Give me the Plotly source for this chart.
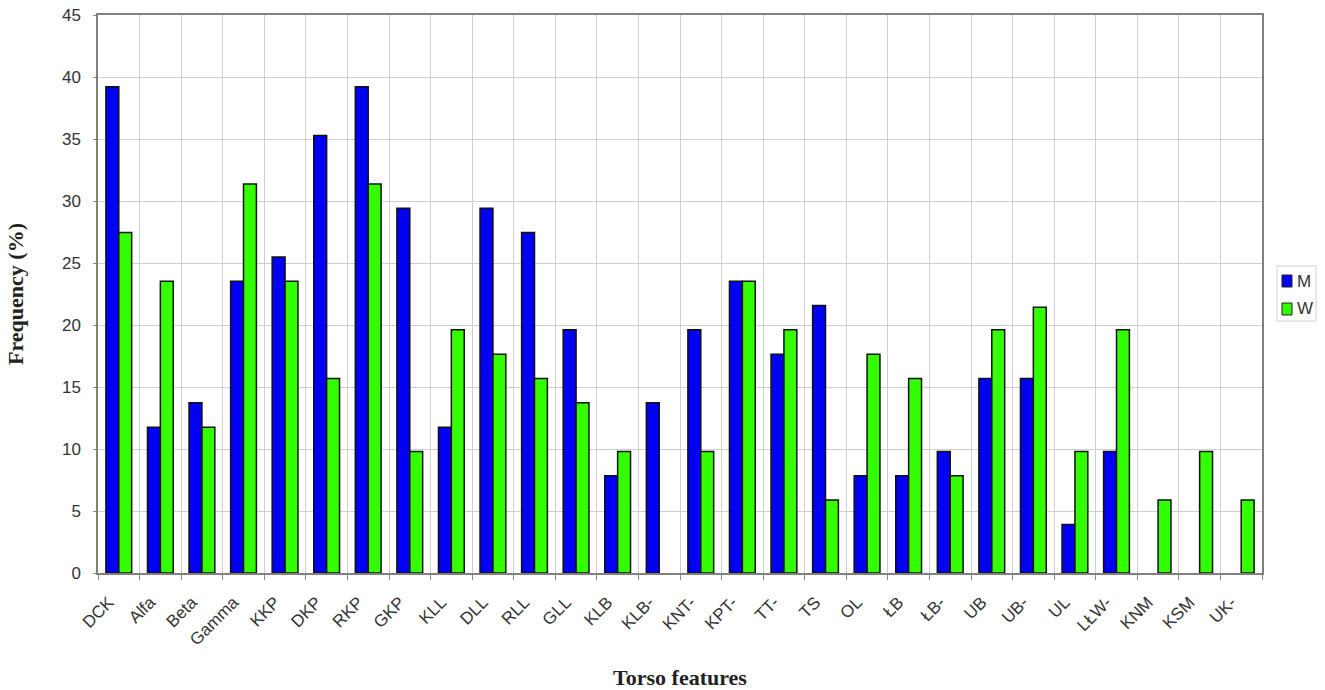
import plotly.graph_objects as go

categories = ["DCK", "Alfa", "Beta", "Gamma", "KKP", "DKP", "RKP", "GKP", "KLL", "DLL",
              "RLL", "GLL", "KLB", "KLB-", "KNT-", "KPT-", "TT-", "TS", "OL", "ŁB",
              "ŁB-", "UB", "UB-", "UL", "LŁW-", "KNM", "KSM", "UK-"]
men = [39.22, 11.76, 13.73, 23.53, 25.49, 35.29, 39.22, 29.41, 11.76, 29.41,
       27.45, 19.61, 7.84, 13.73, 19.61, 23.53, 17.65, 21.57, 7.84, 7.84,
       9.80, 15.69, 15.69, 3.92, 9.80, None, None, None]
women = [27.45, 23.53, 11.76, 31.37, 23.53, 15.69, 31.37, 9.80, 19.61, 17.65,
         15.69, 13.73, 9.80, None, 9.80, 23.53, 19.61, 5.88, 17.65, 15.69,
         7.84, 19.61, 21.43, 9.80, 19.61, 5.88, 9.80, 5.88]
y_ticks = [0, 5, 10, 15, 20, 25, 30, 35, 40, 45]
series_names = ["M", "W"]
series_colors = ["#0000F5", "#33FF00"]

fig = go.Figure()
for name, vals, col in zip(series_names, [men, women], series_colors):
    fig.add_trace(go.Bar(x=categories, y=vals, name=name, showlegend=False,
                         marker=dict(color=col, line=dict(color="#111111", width=1.5))))

x_tick_font = dict(family="Liberation Sans, Arial, sans-serif", size=17, color="#333333")
y_tick_font = dict(family="Liberation Sans, Arial, sans-serif", size=17, color="#333333")
title_font = dict(family="Liberation Serif, Times New Roman, serif", size=22, color="#222222")

# compact legend drawn in paper coordinates (to match the tiny legend box of the reference)
shapes = [dict(type="rect", xref="paper", yref="paper", x0=1.0129, x1=1.0464, y0=0.4516, y1=0.5502,
               line=dict(color="#d0d0d0", width=1), fillcolor="white", layer="above")]
annotations = []
sw_y = [(0.51254, 0.53405), (0.46237, 0.48387)]
for name, col, (y0, y1) in zip(series_names, series_colors, sw_y):
    shapes.append(dict(type="rect", xref="paper", yref="paper", x0=1.01718, x1=1.02577,
                       y0=y0, y1=y1, fillcolor=col, line=dict(color="#222222", width=1),
                       layer="above"))
    annotations.append(dict(xref="paper", yref="paper", x=1.02835, y=(y0 + y1) / 2,
                            text=name, showarrow=False, xanchor="left", yanchor="middle",
                            font=dict(family="Liberation Sans, Arial, sans-serif", size=17,
                                      color="#333333")))

fig.update_layout(
    width=1325, height=690,
    margin=dict(l=98, r=63, t=15, b=117, autoexpand=False),
    paper_bgcolor="white", plot_bgcolor="white",
    barmode="group", bargap=0.38, bargroupgap=0,
    shapes=shapes, annotations=annotations,
    xaxis=dict(type="category", tickson="boundaries", showgrid=True, automargin=False,
               gridcolor="#cfcfcf", gridwidth=1, ticks="outside", ticklen=5,
               tickcolor="#888888", tickangle=-45, tickfont=x_tick_font,
               ticklabelstandoff=11, ticklabelshift=-10,
               showline=True, linecolor="#808080", linewidth=1.5, mirror=True,
               title=dict(text="<b>Torso features</b>", font=title_font, standoff=39)),
    yaxis=dict(range=[0, 45], tickvals=y_ticks, showgrid=True, automargin=False,
               gridcolor="#cfcfcf", gridwidth=1, ticks="outside", ticklen=3,
               tickcolor="#888888", tickfont=y_tick_font, zeroline=False,
               ticklabelstandoff=9, ticklabeloverflow="allow",
               showline=True, linecolor="#808080", linewidth=1.5, mirror=True,
               title=dict(text="<b>Frequency (%)</b>", font=title_font, standoff=32)),
)

fig.write_html("out.html", config={"displayModeBar": False},
               post_script="document.body.style.margin='0';")
